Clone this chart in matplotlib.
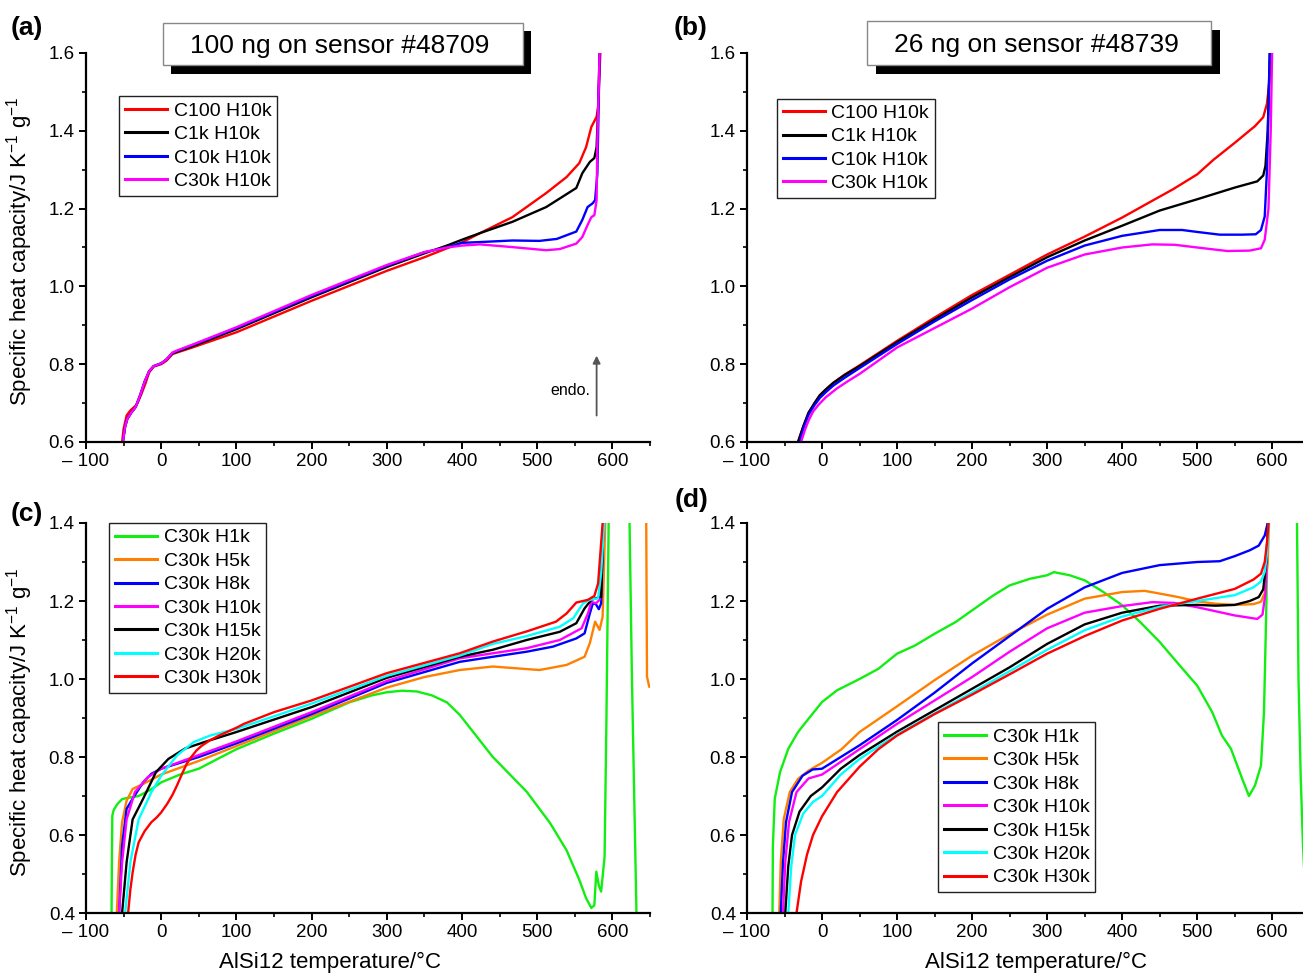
import numpy as np
import matplotlib
matplotlib.use("Agg")
import matplotlib.pyplot as plt
from matplotlib.patches import Rectangle
from matplotlib.ticker import MultipleLocator, FixedLocator, FixedFormatter, FormatStrFormatter

plt.rcParams['font.family'] = ['Liberation Sans', 'DejaVu Sans']
plt.rcParams['mathtext.fontset'] = 'custom'
plt.rcParams['mathtext.rm'] = 'Liberation Sans'
plt.rcParams['mathtext.it'] = 'Liberation Sans:italic'

# ---------------- data ----------------
X_TICKS = [-100, 0, 100, 200, 300, 400, 500, 600]
X_TICKLABELS = ['\u2013 100', '0', '100', '200', '300', '400', '500', '600']

AB_LABELS = ['C100 H10k', 'C1k H10k', 'C10k H10k', 'C30k H10k']
AB_COLORS = ['#FF0000', '#000000', '#0000FF', '#FF00FF']
CD_LABELS = ['C30k H1k', 'C30k H5k', 'C30k H8k', 'C30k H10k', 'C30k H15k', 'C30k H20k', 'C30k H30k']
CD_COLORS = ['#11EE11', '#FF8000', '#0000FF', '#FF00FF', '#000000', '#00FFFF', '#FF0000']

# panel (a) 100 ng on sensor #48709
a_c100_T = [-52, -50, -46, -41, -32.5, -27, -21, -16, -10, 0, 7, 15, 21, 40, 100, 200, 300, 350, 380,
            400, 424, 467, 512, 539, 556, 565, 572, 579, 581, 584, 586]
a_c100_cp = [0.60, 0.634, 0.668, 0.681, 0.696, 0.72, 0.75, 0.779, 0.794, 0.80, 0.809, 0.826, 0.83, 0.842,
             0.882, 0.963, 1.04, 1.075, 1.098, 1.113, 1.137, 1.178, 1.24, 1.281, 1.317, 1.358, 1.41,
             1.436, 1.461, 1.6, 1.7]
a_c1k_T = [-51, -48, -45, -40, -34, -28, -22, -16, -10, 0, 7, 15, 21, 40, 100, 200, 300, 350, 380,
           400, 424, 467, 512, 552, 560, 570, 576, 579, 581, 583, 585]
a_c1k_cp = [0.60, 0.64, 0.66, 0.675, 0.69, 0.72, 0.755, 0.782, 0.795, 0.802, 0.812, 0.828, 0.832, 0.845,
            0.89, 0.972, 1.05, 1.085, 1.105, 1.12, 1.137, 1.166, 1.204, 1.253, 1.291, 1.32, 1.33,
            1.358, 1.46, 1.6, 1.7]
a_c10k_T = [-51, -48, -45, -40, -34, -28, -22, -16, -10, 0, 7, 15, 21, 40, 100, 200, 300, 350, 380,
            400, 424, 467, 503, 526, 552, 560, 567, 574, 577, 580, 583, 585]
a_c10k_cp = [0.60, 0.64, 0.66, 0.675, 0.69, 0.72, 0.755, 0.782, 0.795, 0.802, 0.812, 0.829, 0.834, 0.848,
             0.893, 0.975, 1.053, 1.088, 1.10, 1.112, 1.114, 1.118, 1.117, 1.122, 1.141, 1.171, 1.204,
             1.214, 1.222, 1.29, 1.6, 1.7]
a_c30k_T = [-51, -48, -45, -40, -34, -28, -22, -16, -10, 0, 7, 15, 21, 40, 100, 200, 300, 350, 380,
            400, 424, 467, 512, 530, 552, 560, 567, 572, 576, 579, 580, 583, 585]
a_c30k_cp = [0.60, 0.64, 0.66, 0.675, 0.69, 0.72, 0.755, 0.782, 0.795, 0.802, 0.812, 0.83, 0.835, 0.849,
             0.895, 0.978, 1.055, 1.088, 1.10, 1.105, 1.108, 1.101, 1.093, 1.096, 1.110, 1.127, 1.158,
             1.178, 1.183, 1.222, 1.376, 1.6, 1.7]

# panel (b) 26 ng on sensor #48739
b_c100_T = [-32, -25, -18, -10, -3, 5, 15, 30, 50, 100, 150, 200, 250, 300, 350, 400, 440, 468, 500,
            522, 550, 577, 588, 593, 596, 599, 601]
b_c100_cp = [0.60, 0.64, 0.675, 0.70, 0.72, 0.735, 0.752, 0.773, 0.797, 0.86, 0.92, 0.978, 1.03, 1.082,
             1.128, 1.177, 1.22, 1.25, 1.288, 1.326, 1.369, 1.412, 1.435, 1.47, 1.523, 1.62, 1.7]
b_c1k_T = [-32, -25, -18, -10, -3, 5, 15, 30, 50, 100, 150, 200, 250, 300, 350, 400, 450, 500, 550,
           580, 588, 591, 594, 597, 599]
b_c1k_cp = [0.60, 0.64, 0.675, 0.70, 0.72, 0.735, 0.752, 0.772, 0.795, 0.857, 0.915, 0.972, 1.024, 1.075,
            1.118, 1.156, 1.195, 1.224, 1.254, 1.27, 1.285, 1.31, 1.4, 1.62, 1.7]
b_c10k_T = [-30, -24, -18, -10, -3, 5, 15, 30, 50, 100, 150, 200, 250, 300, 350, 400, 450, 480, 500,
            530, 560, 578, 585, 590, 593, 597, 599]
b_c10k_cp = [0.60, 0.64, 0.67, 0.695, 0.713, 0.728, 0.745, 0.765, 0.79, 0.852, 0.91, 0.965, 1.018, 1.066,
             1.105, 1.13, 1.145, 1.145, 1.14, 1.133, 1.133, 1.134, 1.145, 1.18, 1.3, 1.62, 1.7]
b_c30k_T = [-28, -23, -18, -12, -5, 5, 20, 35, 50, 100, 150, 200, 250, 300, 350, 400, 440, 470, 500,
            540, 570, 585, 590, 595, 598, 600, 602]
b_c30k_cp = [0.60, 0.63, 0.655, 0.678, 0.695, 0.715, 0.738, 0.757, 0.775, 0.843, 0.893, 0.943, 0.998,
             1.048, 1.082, 1.10, 1.108, 1.107, 1.10, 1.091, 1.092, 1.098, 1.12, 1.2, 1.4, 1.62, 1.7]

# panel (c) 100 ng, cooling 30k, varying heating rate
c_h1k_T = [-66, -65.5, -65, -63, -58, -52, -45, -30, -15, 0, 25, 50, 75, 100, 150, 200, 250, 280, 300,
           320, 340, 360, 380, 397, 441, 486, 517, 539, 556, 565, 572, 576, 578.6, 582, 585, 589.6, 592,
           595, 597, np.nan, 622, 626, 629, 632, 634]
c_h1k_cp = [0.40, 0.55, 0.65, 0.665, 0.68, 0.692, 0.695, 0.70, 0.715, 0.735, 0.755, 0.77, 0.795, 0.82,
            0.86, 0.898, 0.94, 0.958, 0.966, 0.97, 0.968, 0.958, 0.94, 0.908, 0.80, 0.711, 0.631, 0.561,
            0.485, 0.438, 0.413, 0.42, 0.506, 0.47, 0.455, 0.544, 0.887, 1.4, 1.5, np.nan,
            1.5, 1.0, 0.7, 0.4, 0.3]
c_h5k_T = [-59, -56, -52, -46, -38, -24, 0, 50, 100, 200, 300, 350, 397, 441, 503, 539, 563, 570, 577,
           583, 587, 590.5, 592, np.nan, 644, 645, 646, 649, 652]
c_h5k_cp = [0.40, 0.53, 0.633, 0.688, 0.718, 0.731, 0.755, 0.79, 0.828, 0.905, 0.978, 1.005, 1.023,
            1.032, 1.023, 1.036, 1.057, 1.092, 1.147, 1.126, 1.16, 1.4, 1.5, np.nan,
            1.5, 1.4, 1.006, 0.98, 0.98]
c_h8k_T = [-56, -52, -46, -38, -24, -13, 0, 50, 100, 200, 300, 397, 441, 486, 521, 552, 563, 570, 574,
           578, 582, 585, 588, 590]
c_h8k_cp = [0.40, 0.573, 0.667, 0.693, 0.735, 0.757, 0.77, 0.80, 0.835, 0.91, 0.99, 1.044, 1.057, 1.07,
            1.083, 1.104, 1.117, 1.168, 1.194, 1.192, 1.179, 1.194, 1.4, 1.5]
c_h10k_T = [-56, -52, -46, -35, -18, 0, 50, 100, 200, 300, 397, 441, 486, 530, 559, 567.5, 572, 578,
            583, 589, 591]
c_h10k_cp = [0.40, 0.53, 0.64, 0.71, 0.748, 0.77, 0.805, 0.84, 0.915, 0.995, 1.053, 1.066, 1.079, 1.10,
             1.13, 1.168, 1.198, 1.194, 1.203, 1.4, 1.5]
c_h15k_T = [-52, -46, -38, -24, -7, 9.5, 32, 65, 100, 200, 300, 397, 441, 486, 530, 552, 563, 572, 578,
            585, 588, 590]
c_h15k_cp = [0.40, 0.53, 0.64, 0.693, 0.761, 0.795, 0.822, 0.843, 0.864, 0.928, 1.003, 1.057, 1.075, 1.10,
             1.121, 1.143, 1.181, 1.203, 1.207, 1.211, 1.4, 1.5]
c_h20k_T = [-48, -41, -30, -13, 0, 21, 43, 65, 100, 200, 300, 397, 441, 486, 530, 548, 561, 570, 581,
            585, 589, 591]
c_h20k_cp = [0.40, 0.53, 0.64, 0.71, 0.752, 0.804, 0.838, 0.855, 0.872, 0.937, 1.008, 1.06, 1.09, 1.11,
             1.134, 1.156, 1.194, 1.203, 1.207, 1.271, 1.4, 1.5]
c_h30k_T = [-44, -41, -38, -34, -30, -22, -13, -6, 0, 8, 15, 21, 28, 34, 40, 47, 54, 65, 77, 100, 110, 150,
            200, 300, 397, 441, 486, 525, 539, 552, 567.5, 576, 581, 587, 589]
c_h30k_cp = [0.40, 0.46, 0.504, 0.55, 0.581, 0.61, 0.633, 0.645, 0.658, 0.68, 0.703, 0.727, 0.758, 0.783,
             0.80, 0.817, 0.829, 0.843, 0.855, 0.875, 0.885, 0.915, 0.945, 1.015, 1.066,
             1.096, 1.122, 1.147, 1.168, 1.196, 1.203, 1.213, 1.245, 1.4, 1.5]

# panel (d) 26 ng, cooling 30k, varying heating rate
d_h1k_T = [-66, -65.5, -63, -56, -45, -32, -18, 0, 20, 50, 75, 100, 124, 150, 178, 200, 228, 250, 277,
           300, 309, 330, 350, 375, 400, 424, 450, 473, 500, 520, 533, 545, 560, 569, 577, 585, 589, 592,
           594, 596, np.nan, 632, 633, 635, 638, 641, 644]
d_h1k_cp = [0.40, 0.573, 0.693, 0.761, 0.821, 0.864, 0.898, 0.941, 0.971, 1.0, 1.026, 1.065, 1.086,
            1.116, 1.146, 1.176, 1.214, 1.24, 1.257, 1.266, 1.274, 1.266, 1.253, 1.223, 1.189, 1.146,
            1.095, 1.043, 0.983, 0.915, 0.855, 0.821, 0.744, 0.70, 0.727, 0.778, 0.915, 1.172, 1.4, 1.5,
            np.nan, 1.5, 1.4, 1.0, 0.744, 0.573, 0.45]
d_h5k_T = [-57, -55, -51, -43, -32, -18, 0, 26, 50, 100, 150, 200, 250, 300, 350, 400, 430, 450, 475,
           500, 525, 550, 575, 585, 590, 594, 596, 598]
d_h5k_cp = [0.40, 0.53, 0.641, 0.71, 0.744, 0.765, 0.785, 0.82, 0.864, 0.93, 0.997, 1.06, 1.115, 1.165,
            1.206, 1.223, 1.226, 1.219, 1.21, 1.199, 1.193, 1.19, 1.192, 1.198, 1.22, 1.3, 1.42, 1.5]
d_h8k_T = [-55, -52, -48, -40, -26, -12.5, 0, 50, 100, 150, 200, 250, 300, 350, 400, 450, 500, 530,
           550, 570, 582, 590, 594, 596]
d_h8k_cp = [0.40, 0.53, 0.633, 0.71, 0.752, 0.768, 0.77, 0.83, 0.895, 0.965, 1.04, 1.11, 1.18, 1.235,
            1.272, 1.292, 1.30, 1.302, 1.315, 1.33, 1.342, 1.368, 1.4, 1.5]
d_h10k_T = [-52, -49, -44, -34, -18, 0, 50, 100, 150, 200, 250, 300, 350, 400, 440, 470, 500, 550, 580,
            587, 591, 595, 597]
d_h10k_cp = [0.40, 0.53, 0.633, 0.71, 0.745, 0.755, 0.82, 0.885, 0.945, 1.005, 1.07, 1.13, 1.17, 1.187,
             1.197, 1.195, 1.184, 1.163, 1.154, 1.165, 1.22, 1.42, 1.5]
d_h15k_T = [-49, -45, -40, -30, -15, 0, 25, 50, 100, 150, 200, 250, 300, 350, 400, 450, 500, 525, 550,
            570, 582, 588, 592, 595, 597]
d_h15k_cp = [0.40, 0.52, 0.60, 0.66, 0.70, 0.722, 0.77, 0.805, 0.865, 0.92, 0.975, 1.03, 1.09, 1.14,
             1.17, 1.188, 1.19, 1.188, 1.19, 1.20, 1.21, 1.23, 1.3, 1.42, 1.5]
d_h20k_T = [-45, -41, -36, -25, -12, 0, 25, 50, 100, 150, 200, 250, 300, 350, 400, 450, 500, 550, 575,
            585, 590, 593, 596, 598]
d_h20k_cp = [0.40, 0.52, 0.60, 0.655, 0.685, 0.70, 0.755, 0.795, 0.858, 0.912, 0.965, 1.02, 1.075,
             1.125, 1.16, 1.185, 1.20, 1.215, 1.235, 1.25, 1.275, 1.32, 1.42, 1.5]
d_h30k_T = [-34, -28, -20, -12, 0, 20, 50, 75, 100, 150, 200, 250, 300, 350, 400, 450, 500, 550, 575,
            585, 590, 593, 596, 598]
d_h30k_cp = [0.40, 0.48, 0.55, 0.60, 0.648, 0.71, 0.775, 0.82, 0.855, 0.91, 0.96, 1.012, 1.065, 1.11,
             1.15, 1.18, 1.206, 1.231, 1.255, 1.27, 1.3, 1.35, 1.42, 1.5]

A_SERIES = [(a_c100_T, a_c100_cp), (a_c1k_T, a_c1k_cp), (a_c10k_T, a_c10k_cp), (a_c30k_T, a_c30k_cp)]
B_SERIES = [(b_c100_T, b_c100_cp), (b_c1k_T, b_c1k_cp), (b_c10k_T, b_c10k_cp), (b_c30k_T, b_c30k_cp)]
C_SERIES = [(c_h1k_T, c_h1k_cp), (c_h5k_T, c_h5k_cp), (c_h8k_T, c_h8k_cp), (c_h10k_T, c_h10k_cp),
            (c_h15k_T, c_h15k_cp), (c_h20k_T, c_h20k_cp), (c_h30k_T, c_h30k_cp)]
D_SERIES = [(d_h1k_T, d_h1k_cp), (d_h5k_T, d_h5k_cp), (d_h8k_T, d_h8k_cp), (d_h10k_T, d_h10k_cp),
            (d_h15k_T, d_h15k_cp), (d_h20k_T, d_h20k_cp), (d_h30k_T, d_h30k_cp)]

YLABEL = 'Specific heat capacity/J K$^{\u22121}$ g$^{\u22121}$'
XLABEL = 'AlSi12 temperature/\u00b0C'

TICK_FS = 13.5
LEG_FS = 14


def style(ax, ylim, xmax):
    ax.set_xlim(-100, xmax)
    ax.set_ylim(*ylim)
    for s in ('top', 'right'):
        ax.spines[s].set_visible(False)
    for s in ('left', 'bottom'):
        ax.spines[s].set_linewidth(1.6)
    ax.xaxis.set_major_locator(FixedLocator(X_TICKS))
    ax.xaxis.set_major_formatter(FixedFormatter(X_TICKLABELS))
    ax.xaxis.set_minor_locator(MultipleLocator(50))
    ax.yaxis.set_major_locator(MultipleLocator(0.2))
    ax.yaxis.set_minor_locator(MultipleLocator(0.1))
    ax.yaxis.set_major_formatter(FormatStrFormatter('%.1f'))
    ax.tick_params(which='major', direction='out', length=5, width=1.4, labelsize=TICK_FS, pad=3)
    ax.tick_params(which='minor', direction='out', length=3, width=1.2)


def curves(ax, series, colors, labels):
    for (T, cp), c, lab in zip(series, colors, labels):
        ax.plot(T, cp, color=c, lw=1.7, label=lab)


def legend(ax, anchor):
    leg = ax.legend(loc='upper left', bbox_to_anchor=anchor, bbox_transform=ax.transData,
                    borderaxespad=0, fontsize=LEG_FS, frameon=True, fancybox=False,
                    framealpha=1, edgecolor='#222222', handlelength=2.15, handletextpad=0.35,
                    labelspacing=0.3, borderpad=0.3)
    leg.get_frame().set_linewidth(1.0)
    for h in leg.get_lines():
        h.set_linewidth(2.2)


def title_box(ax, x0, x1, y0, y1, dx, dy, text):
    ax.add_patch(Rectangle((x0 + dx, y0 - dy), x1 - x0, y1 - y0, fc='black', ec='none',
                           clip_on=False, zorder=5))
    ax.add_patch(Rectangle((x0, y0), x1 - x0, y1 - y0, fc='white', ec='#888888', lw=1.0,
                           clip_on=False, zorder=6))
    ax.text((x0 + x1) / 2 - 4, (y0 + y1) / 2 - 0.004, text, ha='center', va='center', fontsize=19,
            zorder=7, clip_on=False)


fig = plt.figure(figsize=(13.03, 9.76), dpi=100)
W, H = 1303.0, 976.0
ax_a = fig.add_axes([86 / W, 1 - 442 / H, 564 / W, 389 / H])
ax_b = fig.add_axes([747 / W, 1 - 442 / H, 556 / W, 389 / H])
ax_c = fig.add_axes([86 / W, 1 - 913 / H, 564 / W, 390 / H])
ax_d = fig.add_axes([747 / W, 1 - 913 / H, 556 / W, 390 / H])

style(ax_a, (0.6, 1.6), 650)
style(ax_b, (0.6, 1.6), 641)
style(ax_c, (0.4, 1.4), 650)
style(ax_d, (0.4, 1.4), 641)

curves(ax_a, A_SERIES, AB_COLORS, AB_LABELS)
curves(ax_b, B_SERIES, AB_COLORS, AB_LABELS)
curves(ax_c, C_SERIES, CD_COLORS, CD_LABELS)
curves(ax_d, D_SERIES, CD_COLORS, CD_LABELS)

legend(ax_a, (-56, 1.489))
legend(ax_b, (-60, 1.483))
legend(ax_c, (-69, 1.40))
legend(ax_d, (155, 0.889))

title_box(ax_a, 2, 481, 1.568, 1.677, 10.6, 0.021, '100 ng on sensor #48709')
title_box(ax_b, 60, 518.6, 1.570, 1.681, 12, 0.023, '26 ng on sensor #48739')

# endo. arrow
ax_a.annotate('', xy=(579, 0.822), xytext=(579, 0.668),
              arrowprops=dict(arrowstyle='-|>', color='#555555', lw=1.3, mutation_scale=11,
                              shrinkA=0, shrinkB=0))
ax_a.text(571, 0.732, 'endo.', ha='right', va='center', fontsize=11.5)

for ax in (ax_a, ax_c):
    ax.set_ylabel(YLABEL, fontsize=16)
    ax.yaxis.set_label_coords(-0.09, 0.49)
ax_c.set_xlabel(XLABEL, fontsize=16)
ax_c.xaxis.set_label_coords(0.433, -0.1)
ax_d.set_xlabel(XLABEL, fontsize=16)
ax_d.xaxis.set_label_coords(0.52, -0.1)

for lab, x, y in [('(a)', 11, 28), ('(b)', 674, 28), ('(c)', 11, 514), ('(d)', 675, 500)]:
    fig.text(x / W, 1 - y / H, lab, fontsize=19, fontweight='bold', ha='left', va='center')

fig.savefig('out.png', dpi=100)
